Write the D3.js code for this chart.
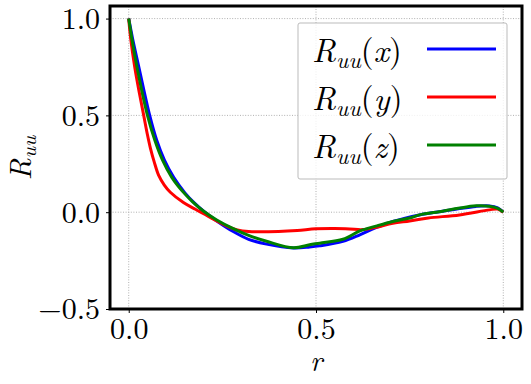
<!DOCTYPE html>
<html>
<head>
<meta charset="utf-8">
<script src="https://cdn.jsdelivr.net/npm/d3@7"></script>
<style>
  body { margin: 0; background: #fff; }
  svg text { font-family: "Latin Modern Roman", "CMU Serif", "Liberation Serif", "Times New Roman", Times, "DejaVu Serif", "Noto Serif", serif; fill: #000; }
</style>
</head>
<body>
<svg id="chart"></svg>
<script>
const xTicks = [0.0, 0.5, 1.0];
const yTicks = [-0.5, 0.0, 0.5, 1.0];

const rX =   [0, 0.01, 0.027, 0.056, 0.075, 0.095, 0.12, 0.15, 0.175, 0.2, 0.235, 0.279, 0.32, 0.368, 0.44, 0.483, 0.51, 0.572, 0.617, 0.66, 0.705, 0.776, 0.838, 0.88, 0.927, 0.963, 0.985, 1.0];
const ruuX = [1, 0.9, 0.75, 0.5, 0.37, 0.27, 0.18, 0.1, 0.048, 0.005, -0.045, -0.1, -0.14, -0.165, -0.185, -0.18, -0.174, -0.151, -0.117, -0.08, -0.048, -0.014, 0.005, 0.018, 0.03, 0.032, 0.022, 0.0];

const rY =   [0, 0.005, 0.016, 0.028, 0.04, 0.05, 0.058, 0.068, 0.08, 0.095, 0.111, 0.146, 0.178, 0.2, 0.235, 0.265, 0.29, 0.32, 0.4, 0.45, 0.5, 0.55, 0.59, 0.625, 0.66, 0.705, 0.75, 0.8, 0.883, 0.963, 0.985, 1.0];
const ruuY = [1, 0.9, 0.75, 0.62, 0.5, 0.4, 0.33, 0.26, 0.19, 0.14, 0.103, 0.05, 0.015, -0.008, -0.045, -0.075, -0.092, -0.1, -0.1, -0.095, -0.086, -0.084, -0.087, -0.09, -0.078, -0.057, -0.045, -0.03, -0.014, 0.012, 0.016, 0.0];

const rZ =   [0, 0.008, 0.022, 0.05, 0.07, 0.09, 0.115, 0.145, 0.17, 0.2, 0.235, 0.279, 0.32, 0.368, 0.44, 0.483, 0.51, 0.572, 0.617, 0.66, 0.705, 0.75, 0.776, 0.838, 0.88, 0.927, 0.963, 0.985, 1.0];
const ruuZ = [1, 0.9, 0.75, 0.5, 0.37, 0.27, 0.18, 0.105, 0.055, 0.005, -0.04, -0.085, -0.12, -0.15, -0.184, -0.168, -0.16, -0.14, -0.097, -0.072, -0.048, -0.03, -0.014, 0.005, 0.02, 0.033, 0.031, 0.02, 0.0];

const series = [
  { comp: "x", r: rX, v: ruuX, color: "#0000ff" },
  { comp: "y", r: rY, v: ruuY, color: "#ff0000" },
  { comp: "z", r: rZ, v: ruuZ, color: "#008000" },
];

const width = 531, height = 384;
const margin = { top: 6, right: 9, bottom: 75, left: 110 };

const svg = d3.select("#chart").attr("width", width).attr("height", height);

const x = d3.scaleLinear().domain([-0.05, 1.05]).range([margin.left, width - margin.right]);
const y = d3.scaleLinear().domain([-0.5, 1.065]).range([height - margin.bottom, margin.top]);

// grid
const grid = svg.append("g").attr("stroke", "#b0b0b0").attr("stroke-width", 1).attr("stroke-dasharray", "1,1.6");
grid.selectAll(".gx").data(xTicks).join("line")
  .attr("x1", d => x(d)).attr("x2", d => x(d))
  .attr("y1", y.range()[0]).attr("y2", y.range()[1]);
grid.selectAll(".gy").data(yTicks).join("line")
  .attr("x1", x.range()[0]).attr("x2", x.range()[1])
  .attr("y1", d => y(d)).attr("y2", d => y(d));

svg.append("clipPath").attr("id", "clip").append("rect")
  .attr("x", x.range()[0]).attr("y", y.range()[1])
  .attr("width", x.range()[1] - x.range()[0]).attr("height", y.range()[0] - y.range()[1]);

const line = d3.line().curve(d3.curveCatmullRom.alpha(0.5));

svg.append("g").attr("clip-path", "url(#clip)")
  .selectAll("path").data(series).join("path")
  .attr("fill", "none")
  .attr("stroke", d => d.color)
  .attr("stroke-width", 3)
  .attr("stroke-linejoin", "round")
  .attr("d", d => line(d.r.map((r, i) => [x(r), y(d.v[i])])));

// axes
const fmt = d => (d < 0 ? "\u2212" : "") + Math.abs(d).toFixed(1);

const xAxis = svg.append("g")
  .attr("transform", `translate(0,${y.range()[0]})`)
  .call(d3.axisBottom(x).tickValues(xTicks).tickFormat(fmt).tickSize(4).tickPadding(6));
const yAxis = svg.append("g")
  .attr("transform", `translate(${x.range()[0]},0)`)
  .call(d3.axisLeft(y).tickValues(yTicks).tickFormat(fmt).tickSize(4).tickPadding(6));

[xAxis, yAxis].forEach(g => {
  g.attr("font-family", null);
  g.select(".domain").remove();
  g.selectAll("text").attr("font-size", 30);
});
xAxis.selectAll("text").attr("dy", "0.66em");
yAxis.selectAll("text").attr("dy", "0.33em");

// frame
svg.append("rect")
  .attr("x", x.range()[0]).attr("y", y.range()[1])
  .attr("width", x.range()[1] - x.range()[0]).attr("height", y.range()[0] - y.range()[1])
  .attr("fill", "none").attr("stroke", "#000").attr("stroke-width", 3);

// axis labels
svg.append("text")
  .attr("x", x(0.5)).attr("y", 371)
  .attr("text-anchor", "middle").attr("font-size", 29).attr("font-style", "italic")
  .text("r");

const ylab = svg.append("text")
  .attr("transform", `translate(31,${y(0.28)}) rotate(-90)`)
  .attr("text-anchor", "middle").attr("font-size", 30);
ylab.append("tspan").attr("font-style", "italic").text("R");
ylab.append("tspan").attr("font-style", "italic").attr("font-size", 21).attr("dy", 5).text("uu");

// legend
const legend = svg.append("g");
legend.append("rect")
  .attr("x", 298).attr("y", 23).attr("width", 209).attr("height", 156)
  .attr("rx", 2).attr("fill", "#fff").attr("fill-opacity", 0.8)
  .attr("stroke", "#bbb").attr("stroke-width", 1);

const item = legend.selectAll(".item").data(series).join("g")
  .attr("transform", (d, i) => `translate(0,${62 + i * 48})`);
item.append("line")
  .attr("x1", 427).attr("x2", 496).attr("y1", -13).attr("y2", -13)
  .attr("stroke", d => d.color).attr("stroke-width", 3);
const lt = item.append("text").attr("x", 312).attr("y", 0).attr("font-size", 33);
lt.append("tspan").attr("font-style", "italic").text("R");
lt.append("tspan").attr("font-style", "italic").attr("font-size", 23).attr("dy", 6).text("uu");
lt.append("tspan").attr("dy", -6).text("(");
lt.append("tspan").attr("font-style", "italic").text(d => d.comp);
lt.append("tspan").text(")");
</script>
</body>
</html>
